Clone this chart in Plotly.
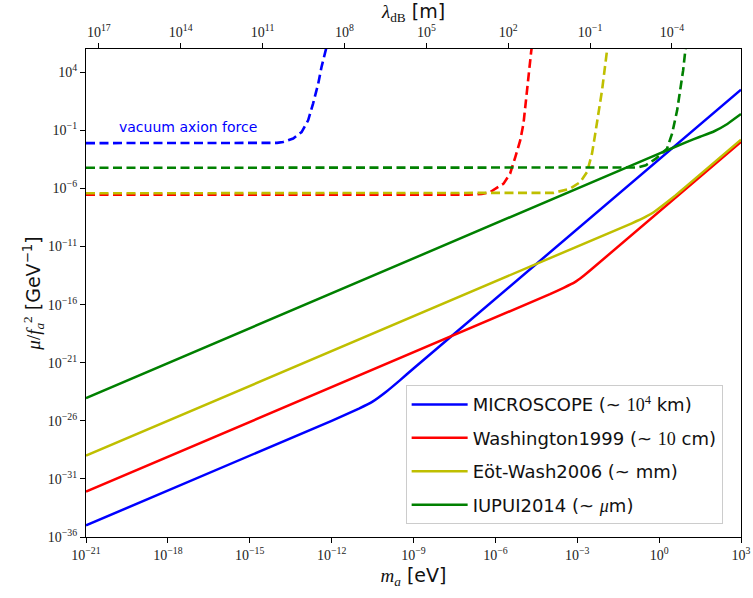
import numpy as np
import plotly.graph_objects as go

# ---------------- data (log10 values) ----------------
# solid exclusion curves: log10(m_a / eV) and log10(mu/f_a^2 / GeV^-1)
micro_logm = [-21, -12, -11, -10.5, -10, -9.5, -9, 3]
micro_logy = [-35.0, -26.0, -24.95, -24.35, -23.5, -22.52, -21.5, 2.5]

wash99_logm = [-21, -4, -3.5, -3.1, -2.8, -2.5, 3]
wash99_logy = [-32.1, -15.1, -14.55, -14.08, -13.58, -13.0, -2.0]

eotwash_logm = [-21, -1.0, -0.5, -0.2, 0.2, 0.6, 1.0, 3]
eotwash_logy = [-29.0, -9.0, -8.45, -8.05, -7.35, -6.6, -5.8, -1.8]

iupui_logm = [-21, 0, 1.0, 1.5, 2.0, 2.5, 3.0]
iupui_logy = [-24.05, -3.0, -2.02, -1.55, -1.1, -0.45, 0.4]

# dashed "vacuum axion force" curves
micro_vac_logm = [-21, -14.0, -13.78, -13.41, -13.10, -12.86, -12.68, -12.49, -12.37, -12.21, -12.1]
micro_vac_logy = [-2.1, -2.08, -2.0, -1.71, -1.15, -0.14, 1.30, 3.02, 4.45, 5.88, 7.0]

wash99_vac_logm = [-21, -7.0, -6.5, -6.19, -5.70, -5.46, -5.27, -5.09, -4.97, -4.85, -4.75, -4.69, -4.62]
wash99_vac_logy = [-6.55, -6.55, -6.48, -6.31, -5.59, -4.73, -3.30, -1.87, -0.42, 2.45, 4.45, 5.74, 7.0]

eotwash_vac_logm = [-21, -4.2, -3.87, -3.26, -2.89, -2.64, -2.46, -2.34, -2.22, -2.09, -2.0, -1.91, -1.85]
eotwash_vac_logy = [-6.42, -6.42, -6.38, -6.02, -5.45, -4.59, -3.01, -1.28, 0.44, 2.47, 4.16, 5.88, 7.0]

iupui_vac_logm = [-21, -1.0, -0.81, -0.49, -0.12, 0.29, 0.475, 0.66, 0.78, 0.88, 0.96, 1.02]
iupui_vac_logy = [-4.22, -4.22, -4.20, -4.01, -3.44, -2.58, -1.28, 0.72, 2.44, 4.16, 5.88, 7.0]

legend_names = [
    "MICROSCOPE (~ <span style='font-family:Liberation Serif'>10<sup>4</sup></span> km)",
    "Washington1999 (~ <span style='font-family:Liberation Serif'>10</span> cm)",
    "Eöt-Wash2006 (~ mm)",
    "IUPUI2014 (~ <i><span style='font-family:Liberation Serif'>μ</span></i>m)",
]
colors = ["#0000ff", "#ff0000", "#bfbf00", "#008000"]

x_tick_exp = [-21, -18, -15, -12, -9, -6, -3, 0, 3]
y_tick_exp = [-36, -31, -26, -21, -16, -11, -6, -1, 4]
top_tick_exp = [17, 14, 11, 8, 5, 2, -1, -4]
lambda_m_product_exp = -3.53   # lambda_dB * m_a  in  m*eV (log10)

# ---------------------------------------------------------------------------
def p10(a):
    return np.power(10.0, np.asarray(a, dtype=float))

def sup(e):
    s = str(e).replace("-", "−")
    return f"10<sup>{s}</sup>"

fig = go.Figure()

solid = [(micro_logm, micro_logy), (wash99_logm, wash99_logy),
         (eotwash_logm, eotwash_logy), (iupui_logm, iupui_logy)]
dashed = [(micro_vac_logm, micro_vac_logy), (wash99_vac_logm, wash99_vac_logy),
          (eotwash_vac_logm, eotwash_vac_logy), (iupui_vac_logm, iupui_vac_logy)]

for (lm, ly), c in zip(dashed, colors):
    fig.add_trace(go.Scatter(x=p10(lm), y=p10(ly), mode="lines", showlegend=False,
                             line=dict(color=c, width=2.6, dash="9px,4.5px"),
                             hoverinfo="skip"))

for i, ((lm, ly), c, name) in enumerate(zip(solid, colors, legend_names)):
    fig.add_trace(go.Scatter(x=p10(lm), y=p10(ly), mode="lines", name=name,
                             legendgroup=f"g{i}",
                             line=dict(color=c, width=2.5, shape="spline", smoothing=0.3)))

# invisible helper trace on top (lambda_dB) axis
fig.add_trace(go.Scatter(x=p10([lambda_m_product_exp + 21, lambda_m_product_exp - 3]),
                         y=p10([-36, -36]), xaxis="x2", mode="lines",
                         line=dict(width=0), showlegend=False, hoverinfo="skip"))

tick_font = dict(family="Liberation Serif", size=14, color="#222")
axis_common = dict(type="log", showgrid=False, zeroline=False, showline=True,
                   linecolor="black", linewidth=1.3, ticks="outside", ticklen=5,
                   tickwidth=1.2, tickcolor="black", tickfont=tick_font,
                   automargin=False)

fig.update_layout(
    width=753, height=598,
    margin=dict(l=86, r=12, t=49, b=61),
    plot_bgcolor="white", paper_bgcolor="white",
    xaxis=dict(**axis_common, range=[-21, 3], mirror=True,
               tickvals=p10(x_tick_exp), ticktext=[sup(e) for e in x_tick_exp],
               title=dict(text="<i><span style='font-family:Liberation Serif'>m<sub>a</sub></span></i> [eV]",
                          font=dict(family="DejaVu Sans", size=19, color="#111"), standoff=6)),
    xaxis2=dict(**axis_common, overlaying="x", side="top",
                range=[lambda_m_product_exp + 21, lambda_m_product_exp - 3],
                tickvals=p10(top_tick_exp), ticktext=[sup(e) for e in top_tick_exp],
                title=dict(text="<span style='font-family:Liberation Serif'><i>λ</i><sub>dB</sub></span> [m]",
                           font=dict(family="DejaVu Sans", size=19, color="#111"))),
    yaxis=dict(**axis_common, range=[-36, 6], mirror=True,
               tickvals=p10(y_tick_exp), ticktext=[sup(e) for e in y_tick_exp],
               title=dict(text="<span style='font-family:Liberation Serif'><i>μ</i>/<i>f</i><sub><i>a</i></sub><sup>2</sup></span> [GeV<sup>−1</sup>]",
                          font=dict(family="DejaVu Sans", size=19, color="#111"), standoff=2)),
    legend=dict(x=0.488, y=0.311, xanchor="left", yanchor="top",
                bgcolor="white", bordercolor="#cccccc", borderwidth=1,
                font=dict(family="DejaVu Sans", size=18, color="#111"),
                tracegroupgap=7, itemwidth=56),
    annotations=[dict(x=-19.88, y=-0.74, xref="x", yref="y", text="vacuum axion force",
                      showarrow=False, xanchor="left", yanchor="middle",
                      font=dict(family="DejaVu Sans", size=14, color="#0000ff"))],
)

fig.write_html("out.html")
